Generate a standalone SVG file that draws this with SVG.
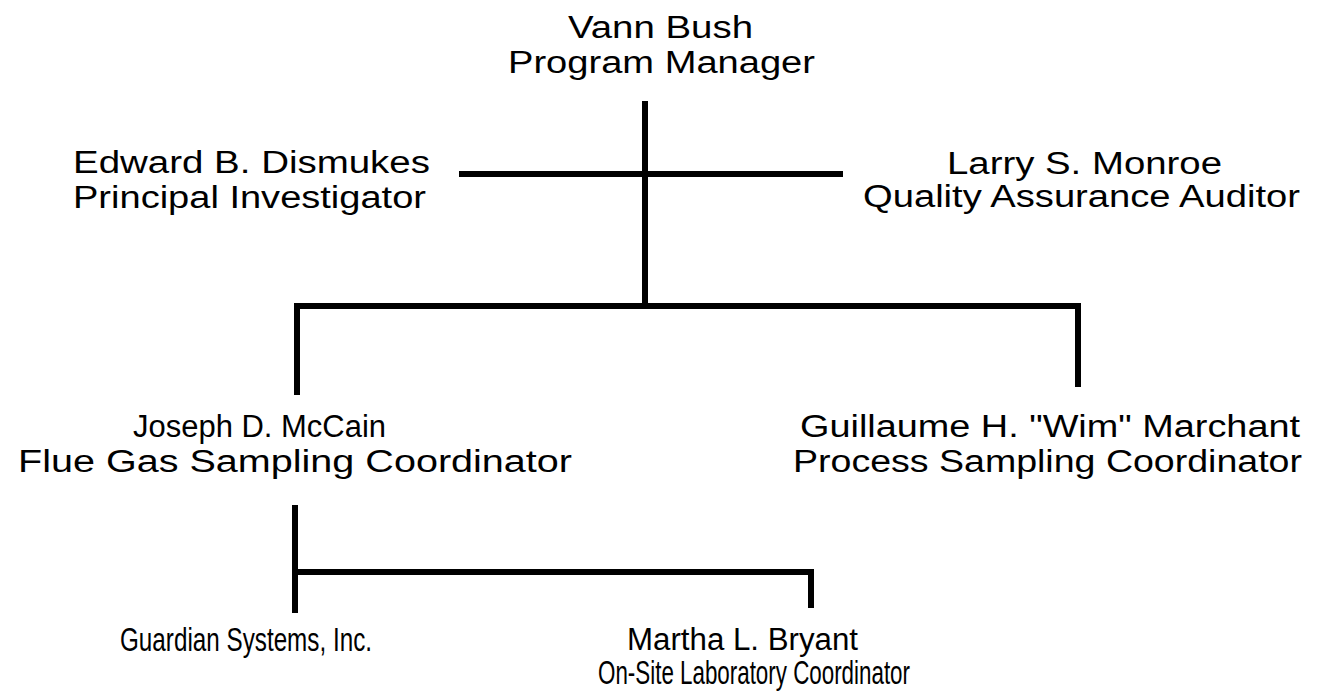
<svg xmlns="http://www.w3.org/2000/svg" width="1327" height="697" viewBox="0 0 1327 697">
<style>
text{font-family:"Liberation Sans",Arial,sans-serif;font-size:31px;fill:#000}
.tall{font-size:33px}
.c line{stroke:#000;stroke-width:6;stroke-linecap:square}
</style>
<rect width="1327" height="697" fill="#fff"/>
<g class="c" id="connectors">
<line x1="645" y1="104" x2="645" y2="304"/>
<line x1="462" y1="174" x2="840" y2="174"/>
<line x1="297" y1="306" x2="1078" y2="306"/>
<line x1="297" y1="306" x2="297" y2="392"/>
<line x1="1078" y1="306" x2="1078" y2="384"/>
<line x1="295" y1="508" x2="295" y2="610"/>
<line x1="295" y1="572" x2="811" y2="572"/>
<line x1="811" y1="572" x2="811" y2="605"/>
</g>
<g id="bush">
<text x="568" y="38" textLength="185" lengthAdjust="spacingAndGlyphs">Vann Bush</text>
<text x="508" y="73" textLength="307" lengthAdjust="spacingAndGlyphs">Program Manager</text>
</g>
<g id="dismukes">
<text x="73" y="173" textLength="357" lengthAdjust="spacingAndGlyphs">Edward B. Dismukes</text>
<text x="73" y="208" textLength="353" lengthAdjust="spacingAndGlyphs">Principal Investigator</text>
</g>
<g id="monroe">
<text x="947" y="174" textLength="275" lengthAdjust="spacingAndGlyphs">Larry S. Monroe</text>
<text x="863" y="207" textLength="437" lengthAdjust="spacingAndGlyphs">Quality Assurance Auditor</text>
</g>
<g id="mccain">
<text x="133" y="437" textLength="253" lengthAdjust="spacingAndGlyphs">Joseph D. McCain</text>
<text x="18" y="472" textLength="554" lengthAdjust="spacingAndGlyphs">Flue Gas Sampling Coordinator</text>
</g>
<g id="marchant">
<text x="800" y="437" textLength="500" lengthAdjust="spacingAndGlyphs">Guillaume H. "Wim" Marchant</text>
<text x="793" y="472" textLength="509" lengthAdjust="spacingAndGlyphs">Process Sampling Coordinator</text>
</g>
<g id="guardian">
<text class="tall" x="120" y="651" textLength="252" lengthAdjust="spacingAndGlyphs">Guardian Systems, Inc.</text>
</g>
<g id="bryant">
<text x="627" y="650" textLength="231" lengthAdjust="spacingAndGlyphs">Martha L. Bryant</text>
<text class="tall" x="598" y="684" textLength="312" lengthAdjust="spacingAndGlyphs">On-Site Laboratory Coordinator</text>
</g>
</svg>
